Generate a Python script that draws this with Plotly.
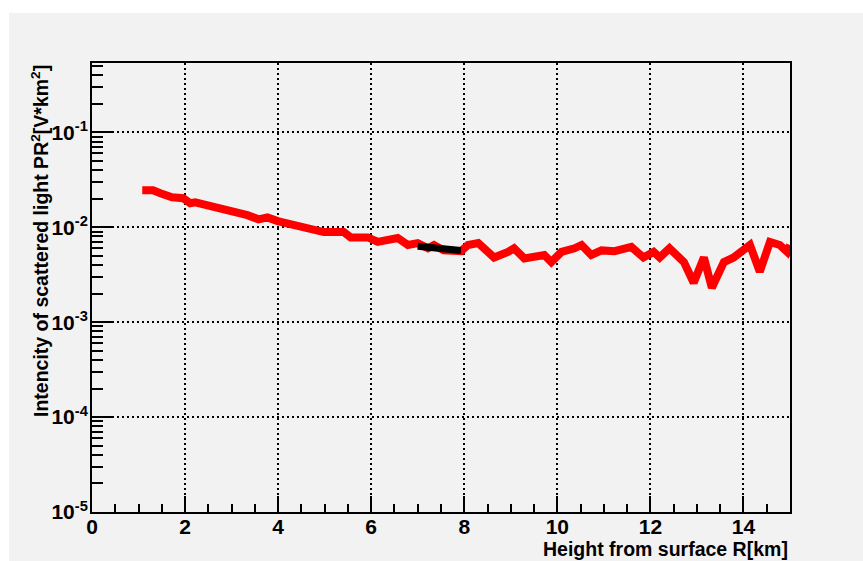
import plotly.graph_objects as go

# Lidar return: range-corrected signal versus height
height_km = [1.08, 1.31, 1.47, 1.72, 1.96, 2.11, 2.22, 2.39, 2.72, 3.02,
             3.19, 3.34, 3.58, 3.77, 3.99, 4.20, 4.55, 4.70, 4.98, 5.41,
             5.56, 5.93, 6.14, 6.57, 6.79, 7.00, 7.22, 7.35, 7.56, 7.93,
             8.08, 8.30, 8.43, 8.64, 8.94, 9.07, 9.29, 9.72, 9.87, 10.09,
             10.37, 10.52, 10.73, 10.95, 11.23, 11.59, 11.85, 12.07, 12.20, 12.41,
             12.72, 12.93, 13.15, 13.32, 13.58, 13.79, 14.14, 14.35, 14.57, 14.78,
             14.94, 15.00]
signal = [0.0245, 0.0245, 0.0228, 0.0207, 0.0202, 0.0179, 0.0183, 0.0175, 0.0163, 0.0144,
          0.0140, 0.0134, 0.0121, 0.0127, 0.0116, 0.0110, 0.0100, 0.0093, 0.0089, 0.0089,
          0.0078, 0.0078, 0.0070, 0.0077, 0.0065, 0.0068, 0.0060, 0.0065, 0.0057, 0.0056,
          0.0065, 0.0068, 0.0060, 0.0048, 0.0055, 0.0060, 0.0047, 0.0051, 0.0043, 0.0055,
          0.0060, 0.0065, 0.0051, 0.0057, 0.0056, 0.0062, 0.0048, 0.0055, 0.0048, 0.0060,
          0.0043, 0.0026, 0.0048, 0.0023, 0.0043, 0.0048, 0.0065, 0.0034, 0.0070, 0.0065,
          0.0055, 0.0065]

# Fit interval overlay
fit_height_km = [7.00, 7.30, 7.60, 7.93]
fit_signal = [0.0063, 0.0061, 0.0059, 0.0057]

y_tick_vals = [1e-5, 1e-4, 1e-3, 1e-2, 1e-1]
y_tick_text = ["10<sup>-5</sup>", "10<sup>-4</sup>", "10<sup>-3</sup>",
               "10<sup>-2</sup>", "10<sup>-1</sup>"]
x_tick_vals = [0, 2, 4, 6, 8, 10, 12, 14]

FONT = "Liberation Sans, Arial, Helvetica, sans-serif"
TICK_SIZE = 21
TITLE_SIZE = 19.5

fig = go.Figure()
fig.add_trace(go.Scatter(x=height_km, y=signal, mode="lines",
                         line=dict(color="#ff0000", width=8), showlegend=False))
fig.add_trace(go.Scatter(x=fit_height_km, y=fit_signal, mode="lines",
                         line=dict(color="#000000", width=7), showlegend=False))

fig.update_layout(
    width=863, height=561,
    margin=dict(l=92, r=73, t=63, b=49),
    paper_bgcolor="#ffffff",
    plot_bgcolor="#f2f2f2",
    font=dict(family=FONT, size=TICK_SIZE, color="black", weight="bold"),
    shapes=[dict(type="rect", xref="paper", yref="paper",
                 x0=(9 - 92) / 698, x1=(863 - 92) / 698 + 0.01,
                 y0=(512 - 562) / 449, y1=(512 - 13) / 449,
                 fillcolor="#f2f2f2", line=dict(width=0), layer="below")],
    annotations=[
        dict(text="Height from surface R[km]", xref="paper", yref="paper",
             x=1.0, y=(512 - 549) / 449, xanchor="right", yanchor="middle",
             showarrow=False,
             font=dict(family=FONT, size=TITLE_SIZE, weight="bold")),
        dict(text="Intencity of scattered light PR<sup>2</sup>[V*km<sup>2</sup>]",
             xref="paper", yref="paper", textangle=-90,
             x=(40 - 92) / 698, y=1.0, xanchor="center", yanchor="top",
             showarrow=False,
             font=dict(family=FONT, size=TITLE_SIZE, weight="bold")),
    ],
)

fig.update_xaxes(
    range=[0, 15], tickmode="array", tickvals=x_tick_vals,
    ticks="inside", ticklen=16, tickwidth=2, tickcolor="black",
    ticklabelstandoff=-5,
    showline=True, linecolor="black", linewidth=2, mirror=True,
    showgrid=True, gridcolor="black", gridwidth=1.5, griddash="2px,3px",
    zeroline=False,
    minor=dict(ticks="inside", ticklen=8, tickwidth=2, tickcolor="black",
               dtick=0.5, showgrid=False),
    tickfont=dict(family=FONT, size=TICK_SIZE, weight="bold"),
)
fig.update_yaxes(
    type="log", range=[-5, -0.27], tickmode="array",
    tickvals=y_tick_vals, ticktext=y_tick_text,
    ticks="inside", ticklen=21, tickwidth=2, tickcolor="black",
    ticklabelstandoff=-2,
    showline=True, linecolor="black", linewidth=2, mirror=True,
    showgrid=True, gridcolor="black", gridwidth=1.5, griddash="2px,3px",
    zeroline=False,
    minor=dict(ticks="inside", ticklen=11, tickwidth=2, tickcolor="black",
               dtick="D1", showgrid=False),
    tickfont=dict(family=FONT, size=TICK_SIZE, weight="bold"),
)

fig.write_html("out.html")
